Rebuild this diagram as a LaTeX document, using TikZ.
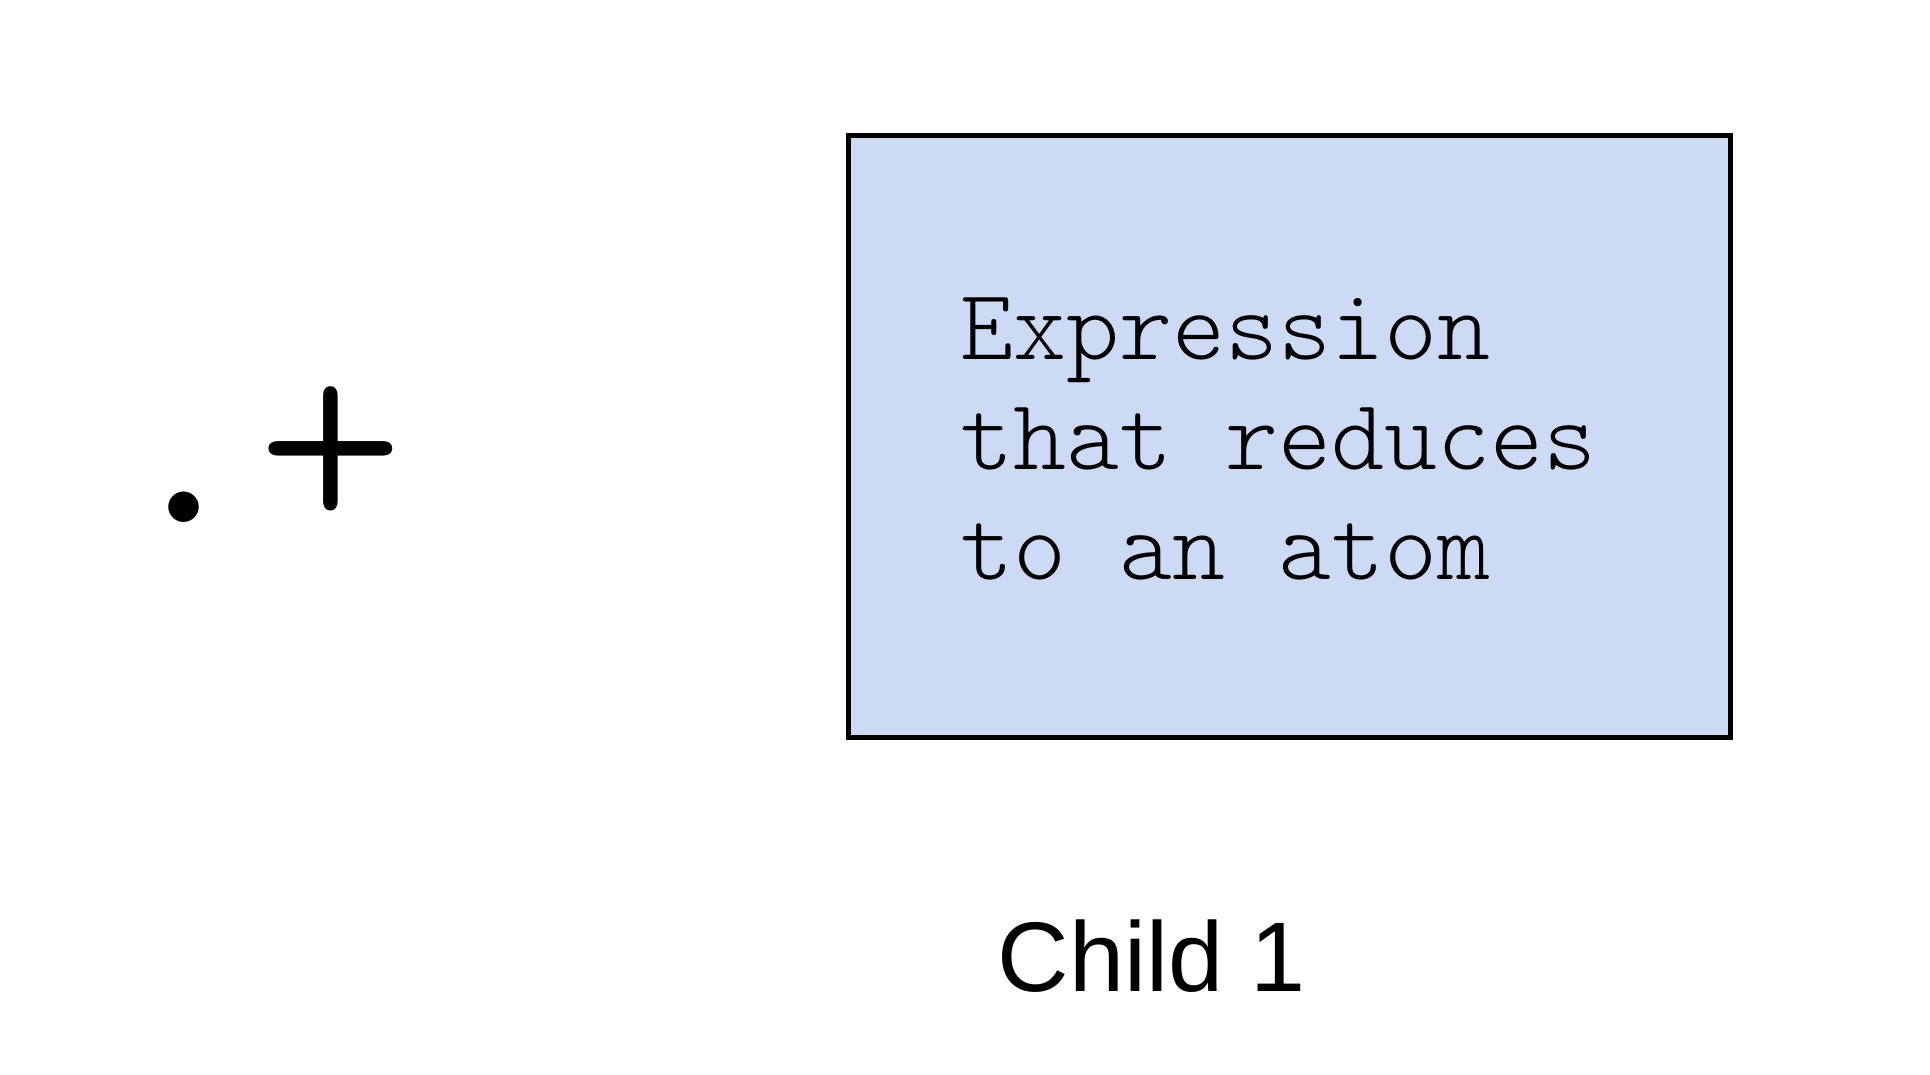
\documentclass[tikz,border=0pt]{standalone}
\usepackage{fontspec}
\setmainfont{Liberation Sans}
\setmonofont{Latin Modern Mono Light}
\definecolor{atomblue}{RGB}{204,218,245}
\tikzset{
  exprbox/.style={draw=black, line width=5pt, fill=atomblue, inner sep=0pt},
  codeline/.style={font=\ttfamily\fontsize{101}{110}\selectfont, anchor=base west, inner sep=0pt},
  regex/.style={font=\ttfamily\fontsize{280}{290}\selectfont, anchor=base west, inner sep=0pt},
  caption/.style={font=\fontsize{99}{110}\selectfont, anchor=base, inner sep=0pt}
}
\begin{document}
\begin{tikzpicture}[x=1pt, y=-1pt]
        \useasboundingbox (0, 0) rectangle (1930, 1074);
        % regex operator
        \node[regex] (op) at (110, 522) {.\raisebox{-12pt}{+}};
        % the child box
        \node[exprbox, anchor=north west, minimum width=882pt, minimum height=602pt] (expr) at (846, 133) {};
        \node[codeline] (exprA) at (960, 359.5) {Expression};
        \node[codeline] (exprB) at (960, 469.5) {that reduces};
        \node[codeline] (exprC) at (960, 579.5) {to an atom};
        \node[caption] (child) at (1152, 991) {Child 1};
\end{tikzpicture}
\end{document}
